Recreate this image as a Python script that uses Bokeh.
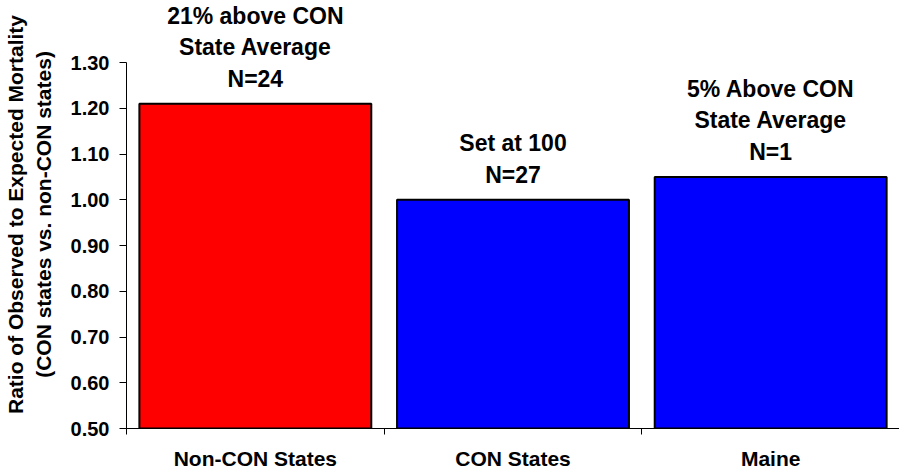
from bokeh.plotting import figure
from bokeh.models import ColumnDataSource, FixedTicker, Range1d, NumeralTickFormatter
from bokeh.core.properties import value
from bokeh.embed import file_html
from bokeh.resources import INLINE

categories = ["Non-CON States", "CON States", "Maine"]
ratios = [1.21, 1.00, 1.05]
bar_colors = ["#FF0000", "#0000FF", "#0000FF"]
notes = [
    ["21% above CON", "State Average", "N=24"],
    ["Set at 100", "N=27"],
    ["5% Above CON", "State Average", "N=1"],
]
y_ticks = [0.50, 0.60, 0.70, 0.80, 0.90, 1.00, 1.10, 1.20, 1.30]

FONT = "Liberation Sans"
PX_PER_UNIT = 457.5  # screen pixels per 1.0 of ratio
FRAME_H = 428

xs = [i + 0.5 for i in range(len(categories))]

p = figure(
    output_backend="svg", toolbar_location=None,
    x_range=Range1d(0, len(categories)),
    y_range=Range1d(0.5, 0.5 + FRAME_H / PX_PER_UNIT),
    min_border_left=117, min_border_right=1, min_border_top=0, min_border_bottom=43,
    frame_height=FRAME_H, frame_width=773,
)
p.outline_line_color = None
p.xgrid.grid_line_color = None
p.ygrid.grid_line_color = None
p.background_fill_color = "white"
p.border_fill_color = "white"

bars = ColumnDataSource(dict(x=xs, top=ratios, color=bar_colors))
p.vbar(x="x", top="top", bottom=0.5, width=0.9, fill_color="color",
       line_color="black", line_width=2, source=bars)

# annotation text above each bar
tx, ty, tt, toff = [], [], [], []
for x, v, lines in zip(xs, ratios, notes):
    n = len(lines)
    for k, line in enumerate(lines):
        from_bottom = n - 1 - k
        tx.append(x)
        ty.append(v)
        tt.append(line)
        toff.append(-(25 + 31.5 * from_bottom))
txt = ColumnDataSource(dict(x=tx, y=ty, text=tt, off=toff))
p.text(x="x", y="y", text="text", y_offset="off", source=txt,
       text_font=value(FONT), text_font_style="bold", text_font_size="23px",
       text_align="center", text_baseline="middle", text_color="black")

# y axis
ya = p.yaxis[0]
ya.ticker = FixedTicker(ticks=y_ticks, minor_ticks=[])
ya.formatter = NumeralTickFormatter(format="0.00")
ya.bounds = (0.5, 1.3)
ya.major_tick_in = 0
ya.major_tick_out = 7
ya.minor_tick_in = 0
ya.minor_tick_out = 0
ya.major_label_standoff = 10
ya.major_label_text_font = FONT
ya.major_label_text_font_style = "bold"
ya.major_label_text_font_size = "20px"
ya.major_label_text_color = "black"
ya.axis_line_color = "black"
ya.major_tick_line_color = "black"
ya.axis_label = "Ratio of Observed to Expected Mortality\n(CON states vs. non-CON states)"
ya.axis_label_text_font = FONT
ya.axis_label_text_font_style = "bold"
ya.axis_label_text_font_size = "21px"
ya.axis_label_text_color = "black"
ya.axis_label_standoff = 13

# x axis: tick marks at category boundaries, labels at centres
xa = p.xaxis[0]
xa.ticker = FixedTicker(ticks=xs, minor_ticks=list(range(len(categories) + 1)))
xa.major_label_overrides = {x: c for x, c in zip(xs, categories)}
xa.major_tick_in = 0
xa.major_tick_out = 0
xa.minor_tick_in = 0
xa.minor_tick_out = 6
xa.minor_tick_line_color = "black"
xa.major_label_standoff = 12
xa.major_label_text_font = FONT
xa.major_label_text_font_style = "bold"
xa.major_label_text_font_size = "21px"
xa.major_label_text_color = "black"
xa.axis_line_color = "black"

open("out.html", "w").write(file_html(p, INLINE))
